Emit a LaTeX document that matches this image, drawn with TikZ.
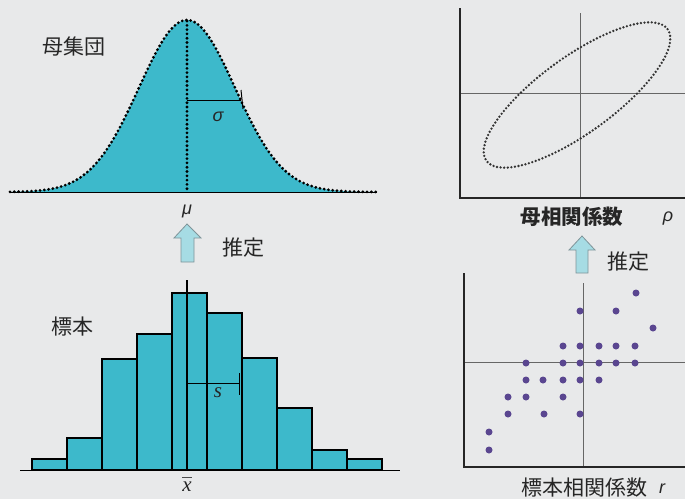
\documentclass[tikz,border=0pt]{standalone}
\usepackage{fontspec}
\newfontfamily\jp{Noto Sans CJK JP}
\newfontfamily\grk{Liberation Sans}
\newfontfamily\srf{Liberation Serif}
\usetikzlibrary{calc}
\definecolor{bg}{HTML}{E8E9EA}
\definecolor{cyanfill}{HTML}{3DB9CB}
\definecolor{dotpurple}{HTML}{5A4690}
\definecolor{txt}{HTML}{262626}
\definecolor{arrowfill}{HTML}{A6DCE4}
\definecolor{arrowline}{HTML}{7F9499}
\tikzset{
  dotline/.style={line width=3.1pt, dash pattern=on 0pt off 4.3pt, line cap=round},
  finedots/.style={line width=2.6pt, dash pattern=on 0pt off 3.6pt, line cap=round, draw=black!80},
  axisline/.style={draw=black!85, line width=1.2pt},
  crossline/.style={draw=black!60, line width=0.6pt},
  bar/.style={fill=cyanfill, draw=black, line width=1.1pt},
  jplabel/.style={font=\jp\fontsize{21}{21}\selectfont, text=txt, inner sep=0pt},
  jpbold/.style={font=\jp\bfseries\fontsize{20.5}{21}\selectfont, text=txt, inner sep=0pt},
  greeklabel/.style={font=\grk\itshape\fontsize{18}{18}\selectfont, text=txt, inner sep=0pt},
  seriflabel/.style={font=\srf\itshape\fontsize{21}{21}\selectfont, text=txt, inner sep=0pt},
  blockarrow/.style={fill=arrowfill, draw=arrowline, line width=0.8pt, line join=miter},
  sdot/.style={circle, fill=dotpurple, inner sep=0pt, minimum size=7pt}
}
\begin{document}
\begin{tikzpicture}[x=1pt,y=-1pt]
\fill[bg] (0,0) rectangle (685,499);
\useasboundingbox (0,0) rectangle (685,499);

% ---------- population normal curve ----------
\fill[cyanfill] (10,192) -- plot[domain=10:377, samples=160] (\x,{192-172*exp(-((\x-187)/48)^2/2)}) -- (377,192) -- cycle;
\draw[black, line width=1pt] (10,192) -- (377,192);
\draw[dotline] plot[domain=10:377, samples=160] (\x,{192-172*exp(-((\x-187)/48)^2/2)});
\draw[dotline] (187,21) -- (187,192);
\draw[black, line width=1pt] (187,100) -- (241,100);
\draw[black, line width=1pt] (241,90) -- (243,109);
\node[jplabel] (popu) at (74,47) {母集団};
\node[greeklabel] (mu) at (187,211) {μ};
\node[greeklabel] (sigma) at (218,117) {σ};

% ---------- left arrow ----------
\draw[blockarrow] (187,224) -- (201,238) -- (194,238) -- (194,262) -- (181,262) -- (181,238) -- (174,238) -- cycle;
\node[jplabel] (est1) at (243,248) {推定};

% ---------- histogram ----------
\draw[black, line width=1pt] (20,470) -- (400,470);
\foreach \i/\h in {0/459,1/438,2/359,3/334,4/293,5/313,6/358,7/408,8/450,9/459}{
  \draw[bar] ({32+35*\i},470) rectangle ({67+35*\i},\h);
}
\draw[black, line width=1.1pt] (187,280) -- (187,470);
\draw[black, line width=1pt] (187,383) -- (239,383);
\draw[black, line width=1pt] (239,373) -- (239,395);
\node[jplabel] (sample) at (72,327) {標本};
\node[seriflabel] (s) at (218,393) {s};
\node[seriflabel] (xbar) at (187,487) {x};
\draw[black!70, line width=1pt] (182,477) -- (192,477);

% ---------- population correlation ----------
\draw[crossline] (580,13) -- (580,198);
\draw[crossline] (460,93) -- (685,93);
\draw[axisline] (460,8) -- (460,198) -- (685,198);
\draw[finedots, rotate around={36:(577,95)}] (577,95) ellipse [x radius=112, y radius=38];
\node[jpbold] (rhotext) at (572,217) {母相関係数};
\node[greeklabel] (rho) at (668,219) {ρ};

% ---------- right arrow ----------
\draw[blockarrow] (582,236) -- (595,250) -- (588,250) -- (588,273) -- (576,273) -- (576,250) -- (569,250) -- cycle;
\node[jplabel] (est2) at (628,262) {推定};

% ---------- sample correlation ----------
\draw[crossline] (583,283) -- (583,467);
\draw[crossline] (464,362) -- (685,362);
\draw[axisline] (464,273) -- (464,467) -- (685,467);
\foreach \p in {(636,293),(580,311),(616,311),(653,328),
  (563,346),(580,346),(599,346),(616,346),(635,346),
  (526,363),(563,363),(580,363),(599,363),(616,363),(635,363),
  (526,380),(543,380),(563,380),(580,380),(599,380),
  (508,397),(526,397),(563,397),
  (508,414),(544,414),(580,414),
  (489,432),(489,450)}{
  \node[sdot] at \p {};
}
\node[jplabel] (rtext) at (584,488) {標本相関係数};
\node[greeklabel] (r) at (662,489) {r};
\end{tikzpicture}
\end{document}
